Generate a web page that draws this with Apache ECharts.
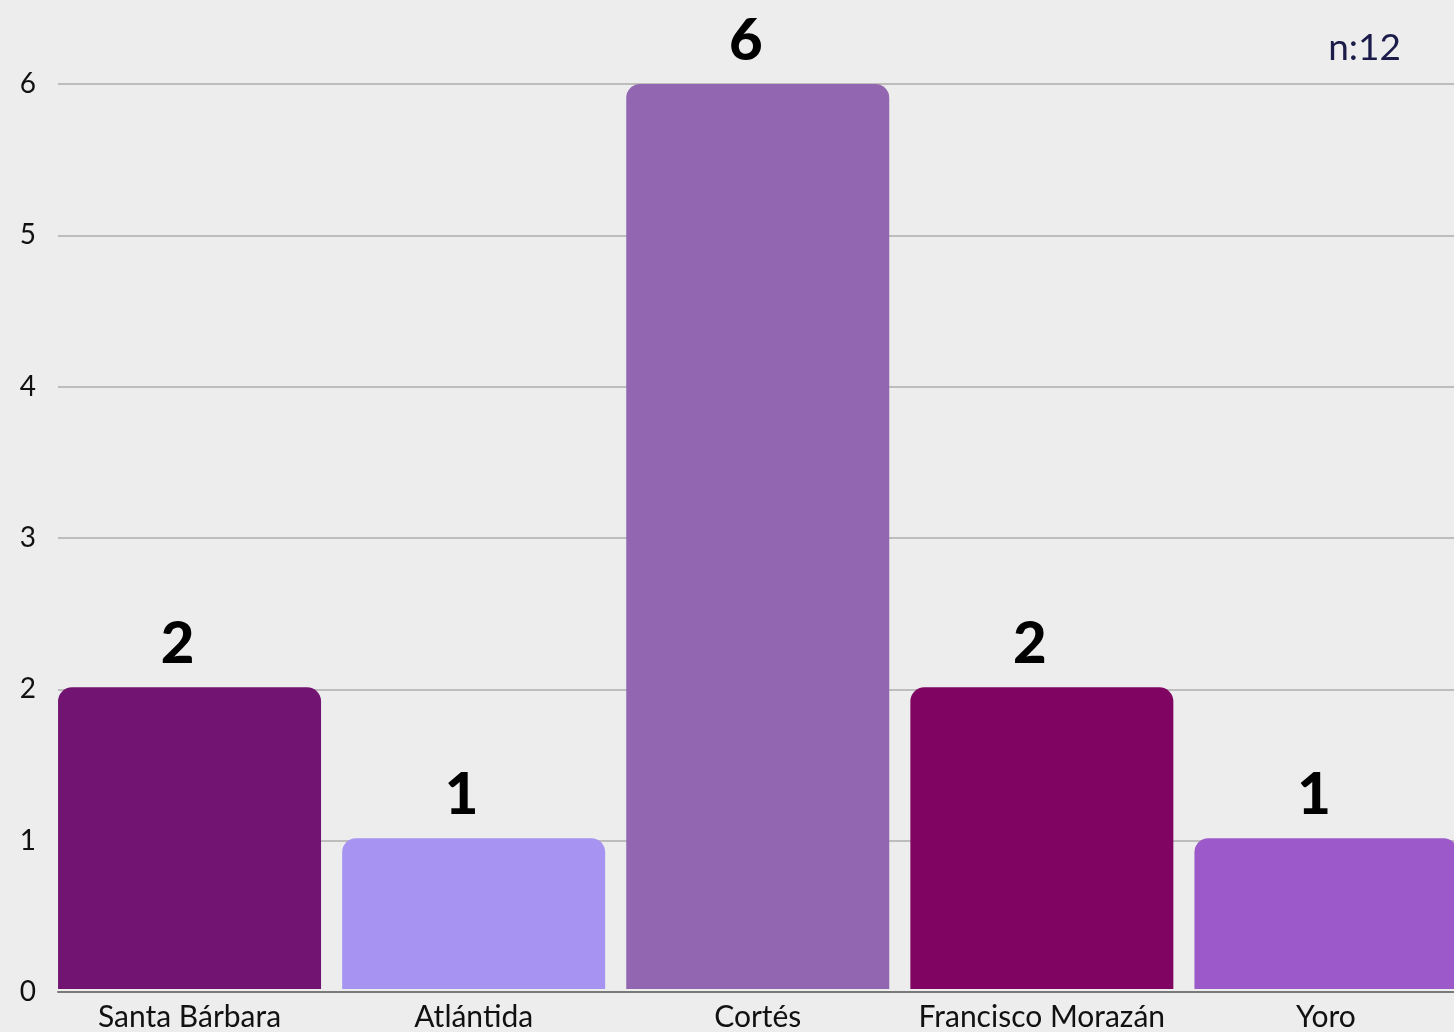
<!DOCTYPE html>
<html>
<head>
<meta charset="utf-8">
<script src="https://cdn.jsdelivr.net/npm/echarts@6/dist/echarts.min.js"></script>
<style>
html,body{margin:0;padding:0;background:#ededed;overflow:hidden;}
#wrap{width:1454px;height:1032px;overflow:hidden;}
#chart{width:1468px;height:1032px;}
</style>
</head>
<body>
<div id="wrap"><div id="chart"></div></div>
<script>
const categories = ['Santa Bárbara', 'Atlántida', 'Cortés', 'Francisco Morazán', 'Yoro'];
const values = [2, 1, 6, 2, 1];
const barColors = ['#721472', '#a794f2', '#9266b0', '#800563', '#9b59c9'];
const yTicks = [0, 1, 2, 3, 4, 5, 6];
const nLabel = 'n:12';

const chart = echarts.init(document.getElementById('chart'));
const FONT = 'Lato, "Noto Sans", sans-serif';
chart.setOption({
  backgroundColor: '#ededed',
  animation: false,
  grid: [
    { left: 58, right: 0, top: 84, bottom: 40 },
    { left: 47.5, right: 0, top: 84, bottom: 40 }
  ],
  graphic: [{
    type: 'text', right: 67, top: 30,
    style: { text: nLabel, font: '400 37px ' + FONT, fill: '#1c1c4a' }
  }],
  xAxis: [
    { type: 'category', gridIndex: 0, data: categories,
      axisLine: { show: true, lineStyle: { color: '#7a7a7a', width: 2 } },
      axisTick: { show: false }, axisLabel: { show: false }, splitLine: { show: false } },
    { type: 'category', gridIndex: 1, data: categories,
      axisLine: { show: false }, axisTick: { show: false },
      axisLabel: { show: true, color: '#111', fontSize: 30, fontFamily: FONT, margin: 13, interval: 0 } }
  ],
  yAxis: [
    { type: 'value', gridIndex: 0, min: 0, max: 6, interval: 1,
      axisLine: { show: false }, axisTick: { show: false },
      axisLabel: { color: '#111', fontSize: 28, fontFamily: FONT, margin: 22,
        formatter: v => yTicks.includes(v) ? String(v) : '' },
      splitLine: { show: true, lineStyle: { color: '#bdbdbd', width: 2 } } },
    { type: 'value', gridIndex: 1, min: 0, max: 6, interval: 1, show: false }
  ],
  series: [{
    type: 'bar', xAxisIndex: 1, yAxisIndex: 1,
    barWidth: 263,
    data: values.map((v, i) => ({ value: v, itemStyle: { color: barColors[i], borderRadius: [14, 14, 0, 0] } })),
    label: { show: true, position: 'top', distance: 14, offset: [-12, 0],
      color: '#000', fontSize: 58, fontWeight: 900, fontFamily: FONT }
  }]
});
</script>
</body>
</html>
